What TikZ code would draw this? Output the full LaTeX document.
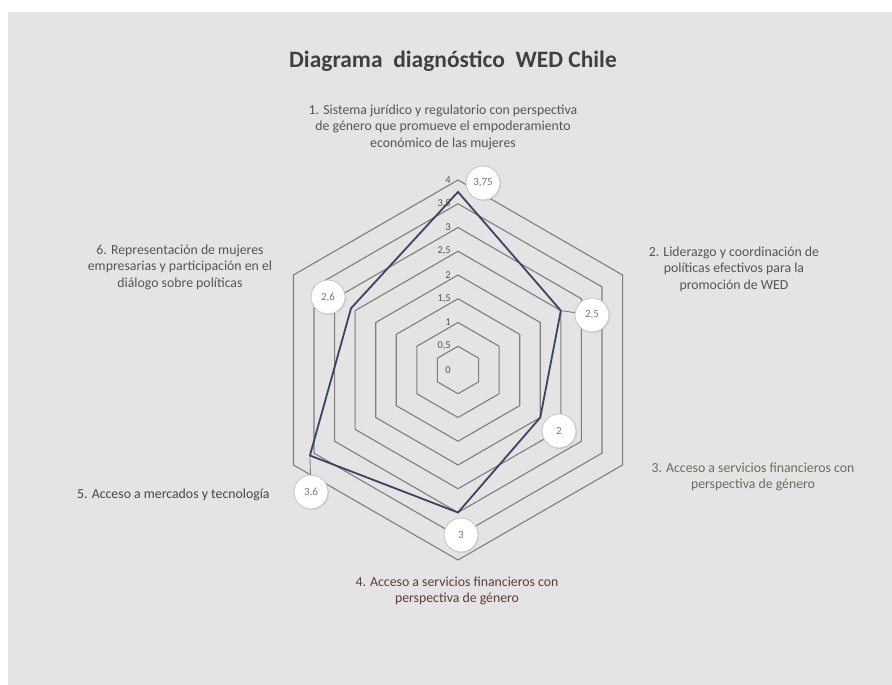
\documentclass[tikz,border=0pt]{standalone}
\usepackage{fontspec}
\setmainfont{Carlito}
\usetikzlibrary{shadows}
\definecolor{panel}{HTML}{E3E4E3}
\definecolor{gridc}{HTML}{7E7E7E}
\definecolor{datac}{HTML}{3B4463}
\definecolor{lblc}{HTML}{555555}
\definecolor{lblthree}{HTML}{6F6B5C}
\definecolor{lblfour}{HTML}{5E3A3C}
\definecolor{lblfive}{HTML}{3F4A46}
\definecolor{titlec}{HTML}{404040}
\definecolor{circc}{HTML}{C4C4C4}
\definecolor{valc}{HTML}{7A7A7A}
\begin{document}
\begin{tikzpicture}[x=1pt,y=-1pt,
  gridline/.style={draw=gridc,line width=1.1pt,line join=miter},
  dataline/.style={draw=datac,line width=1.8pt,line join=miter},
  leader/.style={draw=gridc,line width=0.9pt},
  ticklbl/.style={anchor=east,inner sep=0pt,text=lblc,font=\fontsize{10.5}{11}\selectfont},
  valbubble/.style={circle,draw=circc,fill=white,line width=0.8pt,minimum size=34pt,inner sep=0pt,
    text=valc,font=\fontsize{11}{12}\selectfont,drop shadow={opacity=0.18,shadow xshift=1pt,shadow yshift=-1pt}},
  axislbl/.style={align=center,inner sep=0pt,text=lblc,font=\fontsize{13.8}{16.5}\selectfont},
]
\useasboundingbox (0,0) rectangle (892,685);
\fill[white] (0,0) rectangle (892,685);
\fill[panel] (8,12) rectangle (892,685);

\coordinate (O) at (458,370);

% grid hexagons
\begin{scope}[shift={(458,370)}]
\foreach \v in {0.5,1,...,4}{
  \pgfmathsetmacro\r{47.5*\v}
  \draw[gridline] (-90:\r) -- (-30:\r) -- (30:\r) -- (90:\r) -- (150:\r) -- (210:\r) -- cycle;
}
\end{scope}

% tick labels
\node[ticklbl] (t0) at (451,370) {0};
\node[ticklbl] (t05) at (451,346.25) {0,5};
\node[ticklbl] (t1) at (451,322.5) {1};
\node[ticklbl] (t15) at (451,298.75) {1,5};
\node[ticklbl] (t2) at (451,275) {2};
\node[ticklbl] (t25) at (451,251.25) {2,5};
\node[ticklbl] (t3) at (451,227.5) {3};
\node[ticklbl] (t35) at (451,203.75) {3,5};
\node[ticklbl] (t4) at (451,180) {4};

% data polygon
\begin{scope}[shift={(458,370)}]
\coordinate (d1) at (-90:178.1);
\coordinate (d2) at (-30:118.75);
\coordinate (d3) at (30:95);
\coordinate (d4) at (90:142.5);
\coordinate (d5) at (150:171);
\coordinate (d6) at (210:123.5);
\end{scope}
\draw[dataline] (d1) -- (d2) -- (d3) -- (d4) -- (d5) -- (d6) -- cycle;

% value bubbles
\node[valbubble] (c1) at (483,183) {3,75};
\node[valbubble] (c2) at (592,315) {2,5};
\node[valbubble] (c3) at (559,431) {2};
\node[valbubble] (c4) at (461,535) {3};
\node[valbubble] (c5) at (311,492) {3,6};
\node[valbubble] (c6) at (328,297) {2,6};
\draw[leader] (d2) -- (c2);
\draw[leader] (d5) -- (c5);

% title
\node[text=titlec,font=\fontsize{23.5}{26}\selectfont\bfseries] (title) at (453,61) {Diagrama\ \ diagnóstico\ \ WED Chile};

% axis labels
\node[axislbl] (l1) at (443,127) {1. Sistema jurídico y regulatorio con perspectiva\\de género que promueve el empoderamiento\\económico de las mujeres};
\node[axislbl] (l2) at (734,269) {2. Liderazgo y coordinación de\\políticas efectivos para la\\promoción de WED};
\node[axislbl,text=lblthree] (l3) at (753,477) {3. Acceso a servicios financieros con\\perspectiva de género};
\node[axislbl,text=lblfour] (l4) at (457,591) {4. Acceso a servicios financieros con\\perspectiva de género};
\node[axislbl,text=lblfive,anchor=west] (l5) at (77,495) {5. Acceso a mercados y tecnología};
\node[axislbl] (l6) at (180,267) {6. Representación de mujeres\\empresarias y participación en el\\diálogo sobre políticas};
\end{tikzpicture}
\end{document}
